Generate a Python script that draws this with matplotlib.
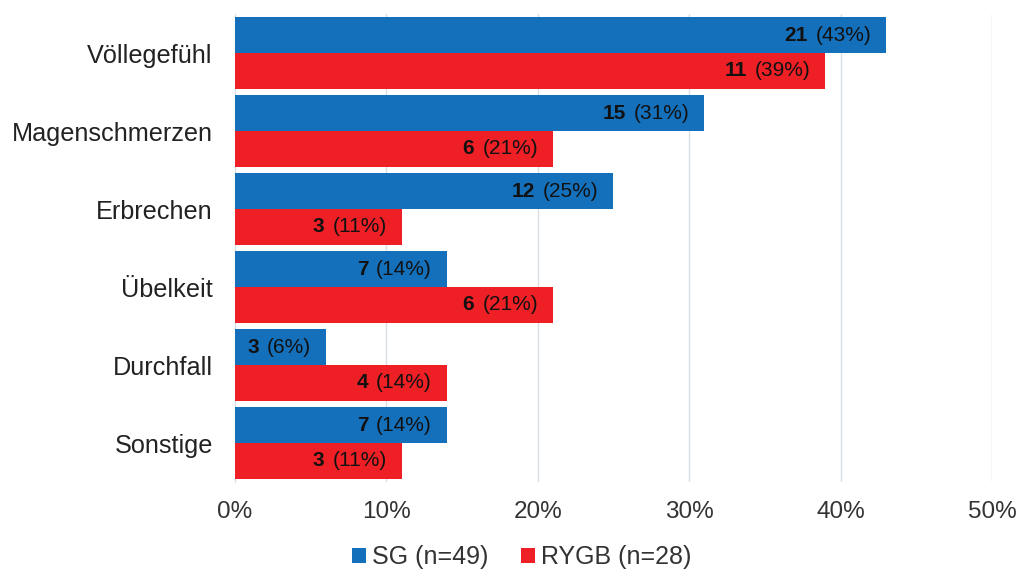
import matplotlib
matplotlib.use("Agg")
import matplotlib.pyplot as plt
from matplotlib.transforms import offset_copy
import numpy as np

plt.rcParams['font.family'] = ['Liberation Sans', 'DejaVu Sans']

categories = ["Völlegefühl", "Magenschmerzen", "Erbrechen", "Übelkeit", "Durchfall", "Sonstige"]
sg_counts = [21, 15, 12, 7, 3, 7]
sg_pct = [43, 31, 25, 14, 6, 14]
rygb_counts = [11, 6, 3, 6, 4, 3]
rygb_pct = [39, 21, 11, 21, 14, 11]
series_names = ["SG (n=49)", "RYGB (n=28)"]
xticks = [0, 10, 20, 30, 40, 50]

blue = "#1570BC"
red = "#EE1F25"

fig = plt.figure(figsize=(10.19, 5.72), dpi=100)
ax = fig.add_axes([0.2306, 0.1573, 0.7429, 0.8182])

y = np.arange(len(categories))
h = 0.46
sg_bars = ax.barh(y - h / 2, sg_pct, height=h, color=blue, label=series_names[0], zorder=3)
rygb_bars = ax.barh(y + h / 2, rygb_pct, height=h, color=red, label=series_names[1], zorder=3)

ax.set_xlim(0, 50)
ax.set_ylim(len(categories) - 0.5, -0.5)
ax.set_xticks(xticks)
ax.set_xticklabels([f"{t}%" for t in xticks], fontsize=17.5, color="#333333")
ax.set_yticks(y)
ax.set_yticklabels(categories, fontsize=18.2, color="#222222")
ax.tick_params(axis="both", length=0)
ax.tick_params(axis="x", pad=14)
ax.tick_params(axis="y", pad=16)
ax.grid(axis="x", color="#DADFE6", linewidth=1, zorder=0)
for s in ["top", "right", "bottom"]:
    ax.spines[s].set_visible(False)
ax.spines["left"].set_color("#DADFE6")

fig.canvas.draw()
renderer = fig.canvas.get_renderer()

PAD = 15  # gap between label and bar end, in pixels

def label_bar(val, pos, count):
    pct_txt = ax.text(val, pos, f"({val}%)", ha="right", va="center", fontsize=15,
                      color="#111111", zorder=5,
                      transform=offset_copy(ax.transData, fig=fig, x=-PAD, y=0, units="dots"))
    w = pct_txt.get_window_extent(renderer=renderer).width
    ax.text(val, pos, f"{count}", ha="right", va="center", fontsize=15, fontweight="bold",
            color="#111111", zorder=5,
            transform=offset_copy(ax.transData, fig=fig, x=-PAD - w - 8, y=0, units="dots"))

for i in range(len(categories)):
    label_bar(sg_pct[i], y[i] - h / 2, sg_counts[i])
    label_bar(rygb_pct[i], y[i] + h / 2, rygb_counts[i])

leg = fig.legend(handles=[sg_bars, rygb_bars], labels=series_names, loc="center",
                 bbox_to_anchor=(0.512, 0.026), ncol=2, frameon=False, fontsize=18,
                 handlelength=0.55, handleheight=0.55, handletextpad=0.25, columnspacing=1.3,
                 borderaxespad=0)
for t in leg.get_texts():
    t.set_color("#333333")

fig.savefig("out.png", dpi=100)
